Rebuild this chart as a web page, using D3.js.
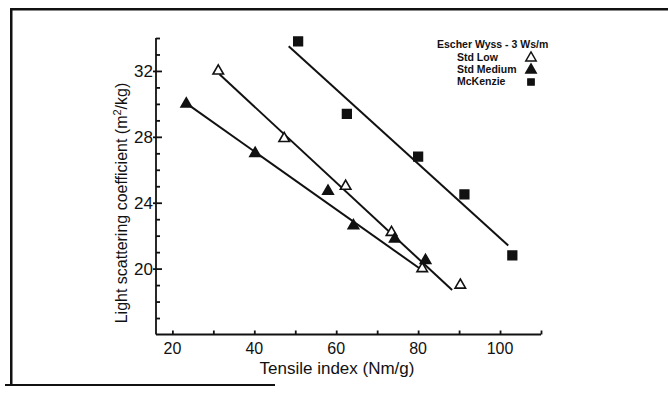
<!DOCTYPE html>
<html>
<head>
<meta charset="utf-8">
<script src="https://cdn.jsdelivr.net/npm/d3@7"></script>
<style>
  body { margin: 0; background: #fff; }
  text { font-family: "Liberation Sans", Arial, sans-serif; fill: #111; }
</style>
</head>
<body>
<script>
const w = 668
const h = 393

// measured points (tensile index, light scattering coefficient)
const stdLowX = [31.2, 47.3, 62.3, 73.5, 81.0, 90.3]
const stdLowY = [32.0, 27.9, 25.0, 22.2, 20.0, 19.0]
const stdMedX = [23.4, 40.2, 58.0, 64.2, 74.3, 81.8]
const stdMedY = [30.0, 27.0, 24.7, 22.6, 21.8, 20.5]
const mckX = [50.7, 62.6, 80.0, 91.3, 103.0]
const mckY = [33.8, 29.4, 26.8, 24.5, 20.8]

// fitted lines, [x, y] at each end
const stdLowFit = [[31.5, 31.8], [88.3, 18.7]]
const stdMedFit = [[23.6, 30.0], [81.0, 19.9]]
const mckFit = [[48.4, 33.5], [102.0, 21.4]]

const xTicks = [20, 40, 60, 80, 100]
const yTicks = [20, 24, 28, 32]
const legendTitle = 'Escher Wyss - 3 Ws/m'
const legendNames = ['Std Low', 'Std Medium', 'McKenzie']

const svg = d3.select('body')
    .append('svg')
    .attr('width', w)
    .attr('height', h)

// scanned page frame
svg.append('rect')
    .attr('x', 10).attr('y', 8)
    .attr('width', 2.5).attr('height', 378)
    .style('fill', '#111')
svg.append('rect')
    .attr('x', 10).attr('y', 8)
    .attr('width', 658).attr('height', 2.5)
    .style('fill', '#111')
svg.append('rect')
    .attr('x', 5).attr('y', 384)
    .attr('width', 270).attr('height', 2)
    .style('fill', '#111')

const x = d3.scaleLinear().domain([16, 110]).range([156, 541])
const y = d3.scaleLinear().domain([16, 34]).range([334.5, 38])

// x axis
const xAxis = svg.append('g')
    .attr('transform', 'translate(0,' + y(16) + ')')
    .call(d3.axisTop(x).tickValues(d3.range(20, 111, 10)).tickSize(4).tickFormat(''))
xAxis.select('.domain').attr('d', 'M' + x(16) + ',0H' + x(110))
xAxis.selectAll('line,path').style('stroke', '#111').style('stroke-width', 1.8)
svg.append('g').selectAll('text')
    .data(xTicks)
    .enter()
    .append('text')
    .attr('x', d => x(d))
    .attr('y', y(16) + 19)
    .attr('text-anchor', 'middle')
    .style('font-size', '16px')
    .text(d => d)

// y axis
const yAxis = svg.append('g')
    .attr('transform', 'translate(' + x(16) + ',0)')
    .call(d3.axisRight(y).tickValues(d3.range(17, 35, 1)).tickSize(4).tickFormat(''))
yAxis.select('.domain').attr('d', 'M0,' + y(16) + 'V' + y(34))
yAxis.selectAll('line,path').style('stroke', '#111').style('stroke-width', 1.8)
yAxis.selectAll('.tick line').filter(d => yTicks.includes(d)).attr('x1', -3).attr('x2', 6)
svg.append('g').selectAll('text')
    .data(yTicks)
    .enter()
    .append('text')
    .attr('x', x(16) - 3)
    .attr('y', d => y(d) + 6)
    .attr('text-anchor', 'end')
    .style('font-size', '17px')
    .text(d => d)

// axis titles
svg.append('text')
    .attr('x', 337)
    .attr('y', 374)
    .attr('text-anchor', 'middle')
    .style('font-size', '17px')
    .text('Tensile index (Nm/g)')

const yTitle = svg.append('text')
    .attr('transform', 'translate(127,203) rotate(-90)')
    .attr('text-anchor', 'middle')
    .style('font-size', '16px')
yTitle.append('tspan').text('Light scattering coefficient (m')
yTitle.append('tspan').attr('dy', -6).style('font-size', '11px').text('2')
yTitle.append('tspan').attr('dy', 6).text('/kg)')

// fitted lines
const line = d3.line().x(d => x(d[0])).y(d => y(d[1]))
svg.selectAll('path.fit')
    .data([stdLowFit, stdMedFit, mckFit])
    .enter()
    .append('path')
    .attr('class', 'fit')
    .attr('d', line)
    .style('fill', 'none')
    .style('stroke', '#111')
    .style('stroke-width', 2)

const tri = d3.symbol().type(d3.symbolTriangle).size(48)
const sq = d3.symbol().type(d3.symbolSquare).size(75)

function drawPoints(xs, ys, sym, filled) {
    svg.append('g').selectAll('path')
        .data(xs.map((d, i) => [d, ys[i]]))
        .enter()
        .append('path')
        .attr('d', sym)
        .attr('transform', d => 'translate(' + x(d[0]) + ',' + y(d[1]) + ')')
        .style('fill', filled ? '#111' : '#fff')
        .style('stroke', '#111')
        .style('stroke-width', 1.6)
}
drawPoints(stdLowX, stdLowY, tri, false)
drawPoints(stdMedX, stdMedY, tri, true)
drawPoints(mckX, mckY, sq, true)

// legend
const leg = svg.append('g')
leg.append('text')
    .attr('x', 437)
    .attr('y', 48)
    .style('font-size', '10.5px')
    .style('font-weight', 'bold')
    .text(legendTitle)
leg.selectAll('text.name')
    .data(legendNames)
    .enter()
    .append('text')
    .attr('class', 'name')
    .attr('x', 457)
    .attr('y', (d, i) => 61 + i * 12)
    .style('font-size', '10.5px')
    .style('font-weight', 'bold')
    .text(d => d)
const legSyms = [[tri, false], [tri, true], [d3.symbol().type(d3.symbolSquare).size(40), true]]
leg.selectAll('path')
    .data(legSyms)
    .enter()
    .append('path')
    .attr('d', d => d[0]())
    .attr('transform', (d, i) => 'translate(531,' + (58 + i * 12) + ')')
    .style('fill', d => d[1] ? '#111' : '#fff')
    .style('stroke', '#111')
    .style('stroke-width', 1.4)
</script>
</body>
</html>
